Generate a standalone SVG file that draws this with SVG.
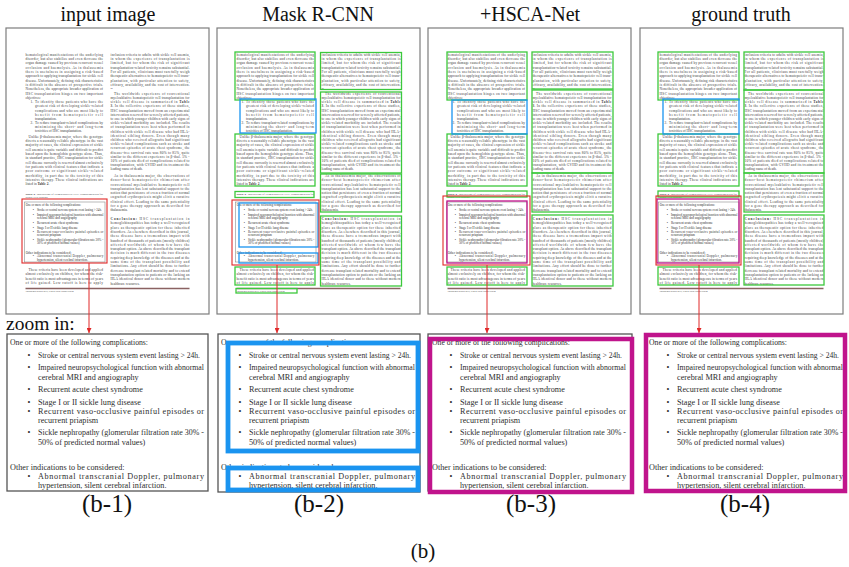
<svg xmlns="http://www.w3.org/2000/svg" width="849" height="567" viewBox="0 0 849 567">
<style>
.t{font-family:"Liberation Serif","Times New Roman",serif;fill:#111}
.pt{font-family:"Liberation Serif","Times New Roman",serif;font-size:3.5px;fill:#3a3a3a}
.zt{font-family:"Liberation Serif","Times New Roman",serif;font-size:8.2px;fill:#2e2e2e}
.g{fill:none;stroke:#3cc83c;stroke-width:1.3}
.b{fill:none;stroke:#1a94f0;stroke-width:1.3}
.m{fill:none;stroke:#c0148c;stroke-width:1.3}
.r{fill:none;stroke:#e02828;stroke-width:1.1}
.pg{fill:#fff;stroke:#7d7d7d;stroke-width:1.2}
.zb{fill:#fff;stroke:#555;stroke-width:1.3}
.bb{fill:none;stroke:#1a94f0;stroke-width:4.8}
.mb{fill:none;stroke:#c0148c;stroke-width:4.5}
.arr{stroke:#e02828;stroke-width:1;fill:none}
</style>
<defs>
<marker id="ah" markerUnits="userSpaceOnUse" viewBox="0 0 10 10" markerWidth="5" markerHeight="5" refX="10" refY="5" orient="auto">
<path d="M0,0 L10,5 L0,10 z" fill="#e02828"/>
</marker>
<g id="zc" class="zt">
<text x="3" y="11.3" textLength="138" lengthAdjust="spacingAndGlyphs">One or more of the following complications:</text>
<text x="20.5" y="24">•</text><text x="31" y="24" textLength="162" lengthAdjust="spacingAndGlyphs">Stroke or central nervous system event lasting &gt; 24h.</text>
<text x="20.5" y="36.3">•</text><text x="31" y="36.3" textLength="166" lengthAdjust="spacingAndGlyphs">Impaired neuropsychological function with abnormal</text>
<text x="31" y="45.7">cerebral MRI and angiography</text>
<text x="20.5" y="58">•</text><text x="31" y="58">Recurrent acute chest syndrome</text>
<text x="20.5" y="71">•</text><text x="31" y="71">Stage I or II sickle lung disease</text>
<text x="20.5" y="80.3">•</text><text x="31" y="80.3" textLength="166" lengthAdjust="spacing">Recurrent vaso-occlusive painful episodes or</text>
<text x="31" y="88.7">recurrent priapism</text>
<text x="20.5" y="101.3">•</text><text x="31" y="101.3" textLength="166" lengthAdjust="spacingAndGlyphs">Sickle nephropathy (glomerular filtration rate 30% -</text>
<text x="31" y="110.7">50% of predicted normal values)</text>
<text x="3" y="135.7">Other indications to be considered:</text>
<text x="20.5" y="145.3">•</text><text x="31" y="145.3" textLength="166" lengthAdjust="spacing">Abnormal transcranial Doppler, pulmonary</text>
<text x="31" y="153.7">hypertension, silent cerebral infarction.</text>
</g>
<g id="pg">
<rect class="pg" x="0" y="0" width="203" height="286"/>
<g class="pt">
<text x="19.5" y="27.5" textLength="77.5" lengthAdjust="spacing">hematological manifestations of the underlying</text>
<text x="19.5" y="31.85" textLength="77.5" lengthAdjust="spacing">disorder, but also stabilize and even decrease the</text>
<text x="19.5" y="36.2" textLength="77.5" lengthAdjust="spacing">organ damage caused by previous recurrent vessel</text>
<text x="19.5" y="40.55" textLength="77.5" lengthAdjust="spacing">occlusion and haemolysis. As in thalassemia</text>
<text x="19.5" y="44.9" textLength="77.5" lengthAdjust="spacing">there is usefulness in assigning a risk-based</text>
<text x="19.5" y="49.25" textLength="77.5" lengthAdjust="spacing">approach to applying transplantation for sickle cell</text>
<text x="19.5" y="53.6" textLength="77.5" lengthAdjust="spacing">disease. Unfortunately, defining risk characteristics</text>
<text x="19.5" y="57.95" textLength="77.5" lengthAdjust="spacing">is difficult in the absence of prospective trials.</text>
<text x="19.5" y="62.3" textLength="77.5" lengthAdjust="spacing">Nonetheless, the appropriate broader application of</text>
<text x="19.5" y="66.65" textLength="77.5" lengthAdjust="spacing">HSC transplantation hinges on two important</text>
<text x="19.5" y="71">objectives:</text>
<text x="24.5" y="75.3">1.</text><text x="29" y="75.3" textLength="68" lengthAdjust="spacing">To identify those patients who have the</text>
<text x="29" y="79.4" textLength="68" lengthAdjust="spacing">greatest risk of developing sickle-related</text>
<text x="29" y="83.5" textLength="68" lengthAdjust="spacing">complications and who are most likely to</text>
<text x="29" y="87.6" textLength="68" lengthAdjust="spacing">benefit from hematopoietic cell</text>
<text x="29" y="91.7">transplantation.</text>
<text x="24.5" y="95.8">2.</text><text x="29" y="95.8" textLength="68" lengthAdjust="spacing">To reduce transplant-related complications by</text>
<text x="29" y="99.9" textLength="68" lengthAdjust="spacing">minimizing the short- and long-term</text>
<text x="29" y="104">toxicities of HSC transplantation.</text>
<text x="22.5" y="109.8" textLength="74.5" lengthAdjust="spacing">Unlike β-thalassemia major, where the genotype</text>
<text x="19.5" y="114.1" textLength="77.5" lengthAdjust="spacing">directs a reasonably reliable phenotype in the vast</text>
<text x="19.5" y="118.4" textLength="77.5" lengthAdjust="spacing">majority of cases, the clinical expression of sickle</text>
<text x="19.5" y="122.7" textLength="77.5" lengthAdjust="spacing">cell anemia is quite variable and difficult to predict</text>
<text x="19.5" y="127" textLength="77.5" lengthAdjust="spacing">based upon the hemoglobin genotype alone. Thus,</text>
<text x="19.5" y="131.3" textLength="77.5" lengthAdjust="spacing">in standard practice, HSC transplantation for sickle</text>
<text x="19.5" y="135.6" textLength="77.5" lengthAdjust="spacing">cell disease currently is reserved almost exclusively</text>
<text x="19.5" y="139.9" textLength="77.5" lengthAdjust="spacing">for patients with clinical features that indicate a</text>
<text x="19.5" y="144.2" textLength="77.5" lengthAdjust="spacing">poor outcome or significant sickle-related</text>
<text x="19.5" y="148.5" textLength="77.5" lengthAdjust="spacing">morbidity, in part due to the toxicity of this</text>
<text x="19.5" y="152.8" textLength="77.5" lengthAdjust="spacing">intensive therapy. These clinical indications are</text>
<text x="19.5" y="157.1">listed in <tspan font-weight="bold">Table 2</tspan>.</text>
<text x="19.5" y="166.5" font-size="2.9" textLength="77.5" lengthAdjust="spacing"><tspan font-weight="bold">Table 2.</tspan> Indications of Hematopoietic Cell Transplantation for</text>
<text x="19.5" y="169.8" font-size="2.9">Sickle Cell Disease</text>
<text x="22.5" y="243" textLength="74.5" lengthAdjust="spacing">These criteria have been developed and applied</text>
<text x="19.5" y="247.3" textLength="77.5" lengthAdjust="spacing">almost exclusively on children, for whom the risk-</text>
<text x="19.5" y="251.6" textLength="77.5" lengthAdjust="spacing">benefit ratio is most advantageous in terms of years</text>
<text x="19.5" y="255.9" textLength="77.5" lengthAdjust="spacing">of life gained. Low cutoff is here to apply</text>
<text x="104.5" y="27.5" textLength="79" lengthAdjust="spacing">inclusion criteria to adults with sickle cell anemia,</text>
<text x="104.5" y="31.85" textLength="79" lengthAdjust="spacing">in whom the experience of transplantation is</text>
<text x="104.5" y="36.2" textLength="79" lengthAdjust="spacing">limited, but for whom the risk of significant</text>
<text x="104.5" y="40.55" textLength="79" lengthAdjust="spacing">transplantation-related toxicity remains substantial.</text>
<text x="104.5" y="44.9" textLength="79" lengthAdjust="spacing">For all patients, clinicians must carefully weigh</text>
<text x="104.5" y="49.25" textLength="79" lengthAdjust="spacing">therapeutic alternatives to hematopoietic cell trans-</text>
<text x="104.5" y="53.6" textLength="79" lengthAdjust="spacing">plantation, with particular attention to safety,</text>
<text x="104.5" y="57.95" textLength="79" lengthAdjust="spacing">efficacy, availability, and the cost of intervention.</text>
<text x="104.5" y="61.3" font-size="2.2">52</text>
<text x="108" y="66.8" textLength="75.5" lengthAdjust="spacing">The worldwide experience of conventional</text>
<text x="104.5" y="71" textLength="79" lengthAdjust="spacing">myeloablative hematopoietic cell transplantation for</text>
<text x="104.5" y="75.2" textLength="79" lengthAdjust="spacing">sickle cell disease is summarized in <tspan font-weight="bold">Table</tspan></text>
<text x="104.5" y="79.4" textLength="79" lengthAdjust="spacing"><tspan font-weight="bold">3</tspan>. In the collective experience of these studies,</text>
<text x="104.5" y="83.6" textLength="79" lengthAdjust="spacing">HSC transplantation moved from an experimental</text>
<text x="104.5" y="87.8" textLength="79" lengthAdjust="spacing">intervention reserved for severely affected patients,</text>
<text x="104.5" y="92" textLength="79" lengthAdjust="spacing">to one in which younger children with early signs of</text>
<text x="104.5" y="96.2" textLength="79" lengthAdjust="spacing">sickle-related morbidity are included. The results</text>
<text x="104.5" y="100.4" textLength="79" lengthAdjust="spacing">of transplantation were best when performed in</text>
<text x="104.5" y="104.6" textLength="79" lengthAdjust="spacing">children with sickle cell disease who had HLA-</text>
<text x="104.5" y="108.8" textLength="79" lengthAdjust="spacing">identical sibling donors. Even though many</text>
<text x="104.5" y="113" textLength="79" lengthAdjust="spacing">children who received allografts had significant</text>
<text x="104.5" y="117.2" textLength="79" lengthAdjust="spacing">sickle-related complications such as stroke and</text>
<text x="104.5" y="121.4" textLength="79" lengthAdjust="spacing">recurrent episodes of acute chest syndrome, the</text>
<text x="104.5" y="125.6" textLength="79" lengthAdjust="spacing">disease-free survival rate was 80% to 85%, quite</text>
<text x="104.5" y="129.8" textLength="79" lengthAdjust="spacing">similar to the different experience in β-thal. 5% -</text>
<text x="104.5" y="134" textLength="79" lengthAdjust="spacing">10% of patients died of complications related to</text>
<text x="104.5" y="138.2" textLength="79" lengthAdjust="spacing">transplantation, with GVHD and its treatment the</text>
<text x="104.5" y="142.4">leading cause of death.</text>
<text x="108" y="149" textLength="75.5" lengthAdjust="spacing">As in thalassemia major, the observations of</text>
<text x="104.5" y="153.25" textLength="79" lengthAdjust="spacing">donor-host hematopoietic chimerism after</text>
<text x="104.5" y="157.5" textLength="79" lengthAdjust="spacing">conventional myeloablative hematopoietic cell</text>
<text x="104.5" y="161.75" textLength="79" lengthAdjust="spacing">transplantation has lent substantial support to the</text>
<text x="104.5" y="166" textLength="79" lengthAdjust="spacing">notion that persistence of even a fraction of normal</text>
<text x="104.5" y="170.25" textLength="79" lengthAdjust="spacing">engrafted erythropoiesis might elicit a curative</text>
<text x="104.5" y="174.5" textLength="79" lengthAdjust="spacing">clinical effect. Leading to the same potentiality</text>
<text x="104.5" y="178.75" textLength="79" lengthAdjust="spacing">for a gene therapy approach as described for</text>
<text x="104.5" y="183">thalassemia.</text>
<text x="104.5" y="192" textLength="79" lengthAdjust="spacing"><tspan font-weight="bold">Conclusion:</tspan> HSC transplantation in</text>
<text x="104.5" y="196.3" textLength="79" lengthAdjust="spacing">hemoglobinopathies has today a well-recognized</text>
<text x="104.5" y="200.6" textLength="79" lengthAdjust="spacing">place as therapeutic option for these inherited</text>
<text x="104.5" y="204.9" textLength="79" lengthAdjust="spacing">disorders. As elsewhere described in this journal,</text>
<text x="104.5" y="209.2" textLength="79" lengthAdjust="spacing">these disease have a tremendous impact with</text>
<text x="104.5" y="213.5" textLength="79" lengthAdjust="spacing">hundred of thousands of patients (mostly children)</text>
<text x="104.5" y="217.8" textLength="79" lengthAdjust="spacing">affected worldwide of whom few have the</text>
<text x="104.5" y="222.1" textLength="79" lengthAdjust="spacing">transplant option. As above described the transplant</text>
<text x="104.5" y="226.4" textLength="79" lengthAdjust="spacing">decision is much different in the two diseases</text>
<text x="104.5" y="230.7" textLength="79" lengthAdjust="spacing">requiring deep knowledge of the diseases and at the</text>
<text x="104.5" y="235" textLength="79" lengthAdjust="spacing">same time of the transplant possibility and</text>
<text x="104.5" y="239.3" textLength="79" lengthAdjust="spacing">limitations. Any effort should be done to further</text>
<text x="104.5" y="243.6" textLength="79" lengthAdjust="spacing">decrease transplant related mortality and to extend</text>
<text x="104.5" y="247.9" textLength="79" lengthAdjust="spacing">transplantation option to patients or the lacking an</text>
<text x="104.5" y="252.2" textLength="79" lengthAdjust="spacing">HLA identical donor and to these without modern</text>
<text x="104.5" y="256.5">healthcare resources.</text>
<text x="19.5" y="264.3" font-size="2.1">Thalassemia Reports 2019; 9:7474 | Open Journal System</text>
</g>
<rect x="18.5" y="174" width="80.5" height="60" fill="#fff" stroke="#8a8a8a" stroke-width="0.6"/>
<use href="#zc" transform="translate(18.5,174) scale(0.4,0.382)"/>
<line x1="19.5" y1="260.5" x2="183.5" y2="260.5" stroke="#8a6262" stroke-width="1.3"/>
</g>
</defs>

<g id="titles" class="t" font-size="20" text-anchor="middle">
<text x="108" y="21">input image</text>
<text x="318" y="21">Mask R-CNN</text>
<text x="530" y="21">+HSCA-Net</text>
<text x="741" y="21">ground truth</text>
</g>

<g id="panel-input">
<use href="#pg" x="6" y="28"/>
<rect class="r" x="22" y="199" width="85" height="64"/>
<rect class="zb" x="7" y="334" width="201" height="157"/>
<use href="#zc" x="7" y="334"/>
</g>

<g id="panel-maskrcnn">
<use href="#pg" x="217" y="28"/>
<rect class="g" x="235" y="52" width="80" height="48"/>
<rect class="g" x="235" y="134" width="80" height="52"/>
<rect class="g" x="235" y="191.5" width="79" height="6"/>
<rect class="g" x="235" y="267" width="80" height="18"/>
<rect class="g" x="320.5" y="52.5" width="81" height="37"/>
<rect class="g" x="320.5" y="92" width="81" height="81"/>
<rect class="g" x="320.5" y="174" width="81" height="38"/>
<rect class="g" x="320.5" y="216" width="81" height="70"/>
<rect class="g" x="236" y="288.5" width="61" height="4.5"/>
<rect class="b" x="240" y="99" width="76" height="34"/>
<rect class="b" x="239" y="203" width="79" height="44"/>
<rect class="b" x="239" y="253" width="79" height="10"/>
<rect class="r" x="232" y="200" width="87" height="65"/>
<rect class="zb" x="218" y="334" width="202" height="158"/>
<use href="#zc" x="218" y="334"/>
<rect class="bb" x="228" y="343" width="190" height="108"/>
<rect class="bb" x="228" y="468" width="190" height="22"/>
</g>

<g id="panel-hscanet">
<use href="#pg" x="428" y="28"/>
<rect class="g" x="447" y="52" width="80" height="48"/>
<rect class="g" x="447" y="134" width="80" height="52"/>
<rect class="g" x="447" y="191" width="80" height="6"/>
<rect class="g" x="447" y="267" width="80" height="18"/>
<rect class="g" x="532" y="52" width="81" height="37"/>
<rect class="g" x="532" y="90" width="81" height="83"/>
<rect class="g" x="532" y="173" width="81" height="39"/>
<rect class="g" x="532" y="215" width="81" height="71"/>
<rect class="b" x="452" y="100" width="75" height="34"/>
<rect class="m" x="447" y="201" width="80" height="62"/>
<rect class="r" x="443" y="196" width="87" height="69"/>
<rect class="zb" x="428" y="334" width="204" height="157"/>
<use href="#zc" x="429" y="334"/>
<rect class="mb" x="430" y="339" width="202" height="153"/>
</g>

<g id="panel-groundtruth">
<use href="#pg" x="640" y="28"/>
<rect class="g" x="658" y="52" width="81" height="48"/>
<rect class="g" x="658" y="134" width="81" height="52"/>
<rect class="g" x="658" y="191" width="81" height="6"/>
<rect class="g" x="658" y="267" width="81" height="18"/>
<rect class="g" x="744" y="52" width="80" height="38"/>
<rect class="g" x="744" y="90" width="80" height="83"/>
<rect class="g" x="744" y="173" width="80" height="39"/>
<rect class="g" x="744" y="215" width="80" height="70"/>
<rect class="b" x="663" y="99" width="76" height="35"/>
<rect class="m" x="657" y="199" width="82" height="64"/>
<rect class="r" x="656" y="196" width="85" height="69"/>
<rect x="646" y="335" width="199" height="156" fill="#fff"/>
<use href="#zc" x="646" y="334"/>
<rect class="mb" x="646" y="335" width="199" height="156"/>
</g>

<g id="connectors">
<line class="arr" x1="89" y1="263" x2="89" y2="333" marker-end="url(#ah)"/>
<line class="arr" x1="277" y1="265" x2="277" y2="333" marker-end="url(#ah)"/>
<line class="arr" x1="487" y1="265" x2="487" y2="333" marker-end="url(#ah)"/>
<line class="arr" x1="699" y1="265" x2="699" y2="333" marker-end="url(#ah)"/>
</g>

<g id="labels" class="t">
<text x="6" y="330" font-size="19.5">zoom in:</text>
<g font-size="25" text-anchor="middle">
<text x="107" y="512">(b-1)</text>
<text x="319" y="512">(b-2)</text>
<text x="531" y="512">(b-3)</text>
<text x="745" y="512">(b-4)</text>
</g>
<text x="423" y="558" font-size="21" text-anchor="middle">(b)</text>
</g>
</svg>
